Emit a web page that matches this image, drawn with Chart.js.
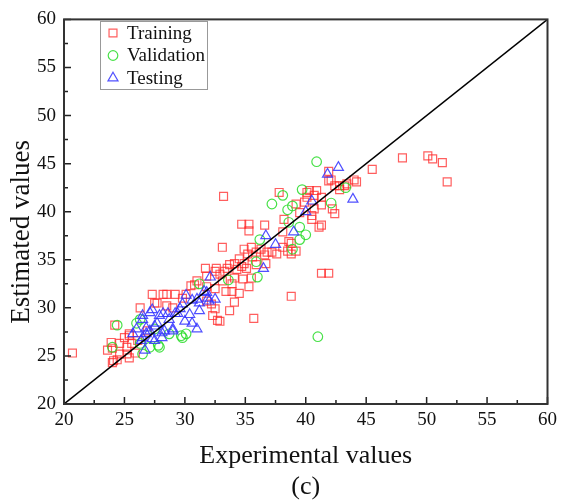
<!DOCTYPE html>
<html>
<head>
<meta charset="utf-8">
<script src="https://cdn.jsdelivr.net/npm/chart.js@4"></script>
<style>
  html, body { margin: 0; padding: 0; background: #fff; }
  #wrap { width: 562px; height: 503px; }
</style>
</head>
<body>
<div id="wrap"><canvas id="scatterChart" width="562" height="503"></canvas></div>
<script>
const axisTicks = [20, 25, 30, 35, 40, 45, 50, 55, 60];

const trainX = [20.7, 23.6, 24.0, 24.4, 25.2, 25.0, 25.4, 24.6, 25.6, 25.9, 26.1, 25.2, 24.6, 25.4, 24.2,
  27.7, 28.5, 27.3, 28.5, 29.2, 27.5, 30.1, 26.3, 31.7, 32.6, 33.5, 34.3, 31.8, 32.5, 33.4,
  33.9, 32.5, 32.7, 33.7, 31.8, 32.3, 34.5, 34.1, 38.8, 35.7, 32.5, 32.9, 33.3, 34.1, 34.8,
  35.5, 35.3, 33.9, 33.1, 31.8, 34.7, 35.3, 35.3, 36.6, 38.5, 39.2, 33.1, 34.9, 35.5, 35.2,
  35.9, 36.6, 36.8, 37.6, 35.6, 34.5, 34.9, 34.1, 34.7, 33.7, 36.3, 38.1, 38.8, 38.1, 38.8,
  37.2, 35.9, 36.7, 35.1, 33.2, 37.8, 40.9, 40.1, 41.3, 40.7, 39.2, 42.2, 42.4, 38.2, 40.5,
  41.3, 41.1, 38.6, 41.9, 42.8, 40.1, 41.3, 39.5, 40.5, 39.9, 40.3, 40.7, 41.9, 42.1, 44.0,
  44.2, 43.2, 42.8, 42.4, 43.4, 45.5, 48.0, 50.1, 50.5, 51.3, 51.7, 41.3, 41.9, 25.4, 24.0,
  24.1, 30.8, 32.2, 32.9, 28.2, 29.0, 29.8, 30.5, 31.0, 26.9, 23.9];
const trainY = [25.3, 25.6, 24.3, 24.6, 25.2, 26.9, 27.3, 26.3, 26.3, 25.3, 26.6, 25.9, 25.2, 24.8, 28.2,
  30.5, 30.2, 31.4, 31.4, 31.4, 30.5, 31.4, 30.0, 34.1, 34.1, 34.1, 34.0, 32.2, 32.0, 31.7,
  31.7, 29.9, 28.7, 29.7, 30.7, 29.2, 31.5, 30.6, 31.2, 28.9, 33.8, 33.5, 33.8, 33.1, 33.0,
  33.1, 32.2, 32.5, 32.8, 33.3, 38.7, 38.7, 38.0, 38.6, 35.9, 35.9, 36.3, 36.1, 36.3, 35.6,
  35.8, 35.5, 35.8, 35.6, 35.3, 35.1, 34.6, 34.6, 34.3, 34.5, 36.1, 37.9, 36.7, 36.3, 35.6,
  35.8, 34.5, 34.6, 34.1, 41.6, 42.0, 42.2, 42.0, 41.5, 40.3, 40.8, 40.3, 39.8, 39.2, 39.2,
  38.6, 38.4, 36.9, 43.2, 42.7, 41.5, 40.7, 39.9, 39.6, 41.0, 42.2, 41.7, 44.2, 43.3, 43.3,
  43.1, 42.7, 42.3, 42.7, 42.9, 44.4, 45.6, 45.8, 45.5, 45.1, 43.1, 33.6, 33.6, 27.1, 25.8,
  24.5, 32.4, 30.4, 28.6, 31.4, 30.0, 31.0, 32.3, 32.8, 27.6, 26.4];

const validX = [24.4, 24.0, 26.3, 26.3, 26.5, 27.9, 27.1, 26.0, 27.8, 30.1, 29.8, 31.2, 33.6, 36.0, 35.9,
  36.2, 38.6, 39.5, 40.0, 39.5, 38.9, 37.2, 38.1, 38.9, 38.5, 39.7, 42.1, 43.3, 40.9, 41.0,
  27.5, 28.7, 29.7];
const validY = [28.2, 25.9, 28.8, 26.3, 25.2, 25.9, 25.9, 28.4, 26.1, 27.3, 26.9, 32.5, 32.9, 33.2, 34.8,
  37.1, 38.9, 38.4, 37.6, 37.1, 36.1, 40.8, 41.7, 40.6, 40.2, 42.3, 40.9, 42.5, 45.2, 27.0,
  27.8, 27.3, 27.1];

const testX = [26.7, 26.0, 26.8, 27.5, 27.1, 26.5, 27.9, 28.6, 29.2, 28.3, 28.1, 27.3, 26.8, 29.0, 26.4,
  30.1, 32.1, 31.8, 30.6, 29.8, 31.2, 32.0, 27.3, 28.2, 29.4, 31.2, 28.7, 30.0, 30.6, 31.0,
  26.5, 27.7, 27.1, 28.1, 29.0, 26.5, 27.5, 25.7, 31.6, 31.0, 32.5, 31.9, 36.7, 37.5, 36.5,
  39.0, 40.5, 40.0, 41.8, 42.7, 43.9, 29.6, 30.4];
const testY = [25.6, 27.8, 27.9, 28.1, 29.5, 29.2, 29.2, 29.4, 29.4, 27.6, 26.9, 26.8, 27.3, 27.8, 26.6,
  31.3, 33.2, 31.6, 30.8, 30.4, 30.5, 30.7, 29.8, 29.4, 29.4, 29.7, 28.8, 28.6, 28.4, 27.8,
  28.8, 28.4, 27.6, 27.4, 27.6, 26.9, 26.6, 27.3, 31.7, 30.9, 30.9, 31.0, 37.5, 36.6, 34.1,
  37.9, 41.1, 40.0, 43.9, 44.6, 41.3, 29.9, 29.3];

const seriesLabels = ['Training', 'Validation', 'Testing'];

function toPoints(xs, ys) {
  return xs.map((x, i) => ({ x: x, y: ys[i] }));
}

const serif = 'Liberation Serif';
Chart.defaults.font.family = serif;

// box, inward tick marks and the in-plot legend
const framePlugin = {
  id: 'frame',
  afterDatasetsDraw(chart) {
    const { ctx, chartArea: a, scales: { x, y } } = chart;
    ctx.save();
    ctx.strokeStyle = '#222';
    ctx.lineWidth = 1.5;
    ctx.beginPath();
    for (let v = 20; v <= 60; v += 2.5) {
      const len = v % 5 === 0 ? 7 : 4;
      const px = x.getPixelForValue(v);
      ctx.moveTo(px, a.bottom);
      ctx.lineTo(px, a.bottom - len);
      const py = y.getPixelForValue(v);
      ctx.moveTo(a.left, py);
      ctx.lineTo(a.left + len, py);
    }
    ctx.stroke();
    ctx.strokeStyle = '#333';
    ctx.lineWidth = 2;
    ctx.strokeRect(a.left, a.top, a.right - a.left, a.bottom - a.top);

    // legend
    const lx = 100, ly = 21, lw = 107, lh = 68;
    ctx.fillStyle = '#fff';
    ctx.fillRect(lx, ly, lw, lh);
    ctx.strokeStyle = '#999';
    ctx.lineWidth = 1;
    ctx.strokeRect(lx + 0.5, ly + 0.5, lw, lh);
    ctx.font = '19px ' + serif;
    ctx.textBaseline = 'middle';
    ctx.textAlign = 'left';
    seriesLabels.forEach((label, i) => {
      const ds = chart.data.datasets[i];
      const cy = ly + 12 + i * 22.5;
      ctx.strokeStyle = ds.borderColor;
      ctx.fillStyle = 'rgba(0,0,0,0)';
      ctx.lineWidth = ds.borderWidth;
      Chart.helpers.drawPoint(ctx, {
        pointStyle: ds.pointStyle, radius: ds.pointRadius, borderWidth: ds.borderWidth, rotation: 0
      }, lx + 13, cy);
      ctx.fillStyle = '#111';
      ctx.fillText(label, lx + 27, cy + 1);
    });
    ctx.restore();
  }
};

const ctx = document.getElementById('scatterChart').getContext('2d');
new Chart(ctx, {
  type: 'scatter',
  data: {
    datasets: [
      {
        label: seriesLabels[0],
        data: toPoints(trainX, trainY),
        pointStyle: 'rect',
        pointRadius: 5.6,
        borderColor: 'rgba(255, 40, 40, 0.75)',
        backgroundColor: 'rgba(0,0,0,0)',
        borderWidth: 1.2,
        order: 3
      },
      {
        label: seriesLabels[1],
        data: toPoints(validX, validY),
        pointStyle: 'circle',
        pointRadius: 4.8,
        borderColor: 'rgba(40, 220, 40, 0.85)',
        backgroundColor: 'rgba(0,0,0,0)',
        borderWidth: 1.2,
        order: 2
      },
      {
        label: seriesLabels[2],
        data: toPoints(testX, testY),
        pointStyle: 'triangle',
        pointRadius: 5.8,
        borderColor: 'rgba(50, 50, 255, 0.85)',
        backgroundColor: 'rgba(0,0,0,0)',
        borderWidth: 1.2,
        order: 1
      },
      {
        type: 'line',
        label: 'y = x',
        data: [{ x: 20, y: 20 }, { x: 60, y: 60 }],
        borderColor: '#000',
        borderWidth: 1.5,
        pointRadius: 0,
        order: 0
      }
    ]
  },
  options: {
    responsive: false,
    animation: false,
    events: [],
    layout: { padding: { top: 15, right: 13, left: 0, bottom: 0 } },
    plugins: {
      legend: { display: false },
      tooltip: { enabled: false }
    },
    scales: {
      x: {
        type: 'linear',
        min: 20,
        max: 60,
        afterBuildTicks(scale) { scale.ticks = axisTicks.map(v => ({ value: v })); },
        afterFit(scale) { scale.height = 99; },
        grid: { display: false, drawTicks: false },
        border: { display: false },
        ticks: { color: '#111', padding: 5, font: { family: serif, size: 19 } },
        title: {
          display: true,
          text: ['Experimental values', '(c)'],
          color: '#111',
          padding: { top: 0, bottom: 0 },
          font: { family: serif, size: 26, lineHeight: 1.2 }
        }
      },
      y: {
        type: 'linear',
        min: 20,
        max: 60,
        afterBuildTicks(scale) { scale.ticks = axisTicks.map(v => ({ value: v })); },
        afterFit(scale) { scale.width = 64; },
        grid: { display: false, drawTicks: false },
        border: { display: false },
        ticks: { color: '#111', padding: 8, font: { family: serif, size: 19 } },
        title: {
          display: true,
          text: 'Estimated values      ',
          color: '#111',
          padding: { top: 6, bottom: 0 },
          font: { family: serif, size: 27, lineHeight: 1.2 }
        }
      }
    }
  },
  plugins: [framePlugin]
});
</script>
</body>
</html>
